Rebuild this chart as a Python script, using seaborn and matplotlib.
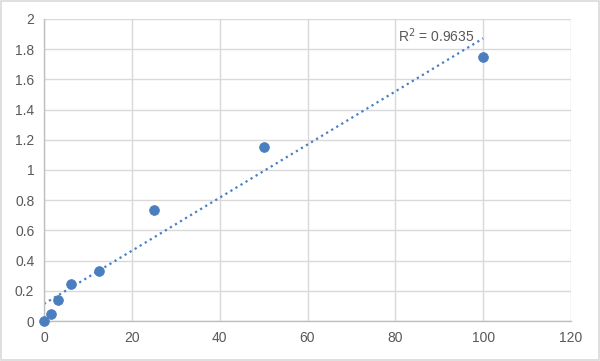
import numpy as np
import pandas as pd
import matplotlib
matplotlib.use('Agg')
import matplotlib.pyplot as plt
import seaborn as sns

# ── Data ─────────────────────────────────────────────
conc = [0, 1.56, 3.125, 6.25, 12.5, 25, 50, 100]
od = [0.0, 0.046, 0.139, 0.245, 0.331, 0.735, 1.152, 1.748]
r2_label = 'R$^2$ = 0.9635'

sns.set_style('white')
plt.rcParams['font.family'] = ['Liberation Sans', 'DejaVu Sans']

BLUE = '#4A7EBF'
GRID = '#D9D9D9'
TXT = '#595959'

df = pd.DataFrame({'conc': conc, 'od': od})

fig = plt.figure(figsize=(6, 3.61), dpi=100)
ax = fig.add_axes([0.0733, 0.1108, 0.8784, 0.8366])

# linear trendline (least squares)
slope, icpt = np.polyfit(df['conc'], df['od'], 1)
xs = np.array([df['conc'].min(), df['conc'].max()])
ax.plot(xs, slope * xs + icpt, color=BLUE, linestyle=':', linewidth=1.6, zorder=2)

sns.scatterplot(data=df, x='conc', y='od', ax=ax, color=BLUE, s=50,
                edgecolor=BLUE, linewidth=0.5, zorder=3)
ax.collections[-1].set_clip_on(False)

ax.set_xlim(0, 120)
ax.set_ylim(0, 2)
ax.set_xticks(np.arange(0, 121, 20))
ax.set_yticks(np.arange(0, 2.01, 0.2))
ax.set_yticklabels(['0', '0.2', '0.4', '0.6', '0.8', '1', '1.2', '1.4', '1.6', '1.8', '2'])
ax.grid(True, color=GRID, linewidth=1)
ax.set_axisbelow(True)
ax.set_xlabel('')
ax.set_ylabel('')
ax.tick_params(axis='both', colors=TXT, labelsize=10, length=0, pad=7)
for side in ['top', 'right']:
    ax.spines[side].set_visible(False)
for side in ['left', 'bottom']:
    ax.spines[side].set_color('#BFBFBF')
    ax.spines[side].set_linewidth(1)

ax.text(80.5, 1.83, r2_label, color=TXT, fontsize=10, ha='left', va='bottom')

# chart border
fig.patches.append(plt.Rectangle((0.002, 0.003), 0.996, 0.994, transform=fig.transFigure,
                                 fill=False, edgecolor='#D9D9D9', linewidth=1.2))

fig.savefig('out.png', dpi=100)
